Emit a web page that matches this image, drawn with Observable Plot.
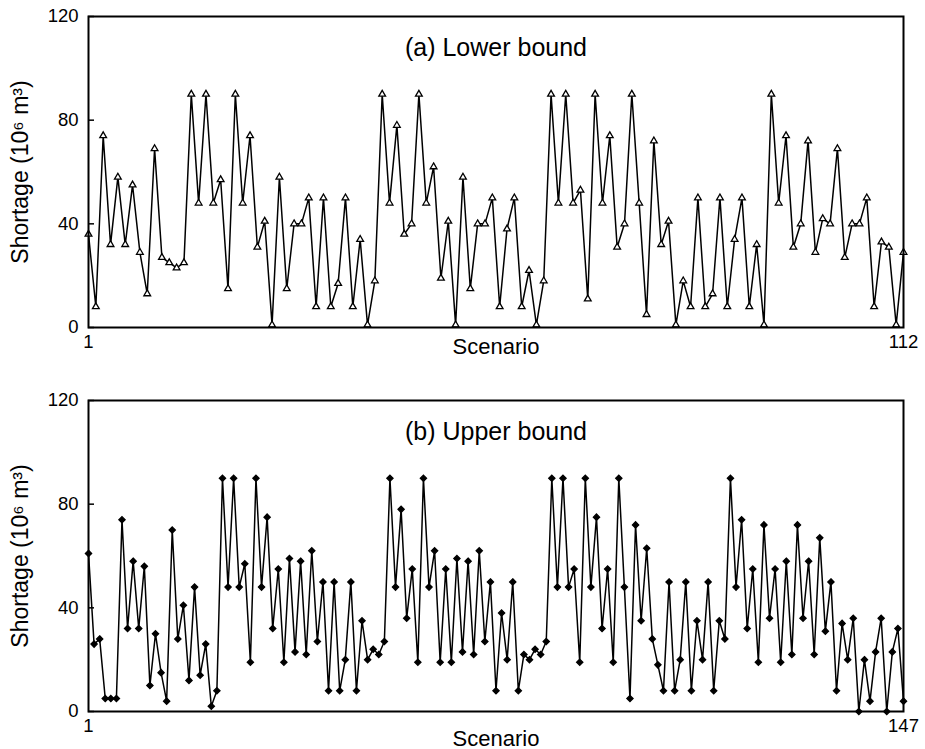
<!DOCTYPE html>
<html><head><meta charset="utf-8">
<script src="https://cdn.jsdelivr.net/npm/d3@7"></script>
<script src="https://cdn.jsdelivr.net/npm/@observablehq/plot@0.6"></script>
<style>body{margin:0;background:#fff;font-family:"Liberation Sans",Arial,sans-serif} svg{display:block}</style>
</head><body><div id="chart"></div>
<script>
// (a) Lower bound, scenarios 1..112
const lowerBound = [36,8,74,32,58,32,55,29,13,69,27,25,23,25,90,48,90,48,57,15,90,48,74,31,41,1,58,15,
  40,40,50,8,50,8,17,50,8,34,1,18,90,48,78,36,40,90,48,62,19,41,1,58,15,40,40,50,
  8,38,50,8,22,1,18,90,48,90,48,53,11,90,48,74,31,40,90,48,5,72,32,41,1,18,8,50,
  8,13,50,8,34,50,8,32,1,90,48,74,31,40,72,29,42,40,69,27,40,40,50,8,33,31,1,29];
// (b) Upper bound, scenarios 1..147
const upperBound = [61,26,28,5,5,5,74,32,58,32,56,10,30,15,4,70,28,41,12,48,14,26,2,8,90,48,90,48,57,19,90,48,75,32,55,19,
  59,23,58,22,62,27,50,8,50,8,20,50,8,35,20,24,22,27,90,48,78,36,55,19,90,48,62,19,55,19,59,23,58,22,62,27,50,8,
  38,20,50,8,22,20,24,22,27,90,48,90,48,55,19,90,48,75,32,55,19,90,48,5,72,35,63,28,18,8,50,8,20,50,8,35,20,
  50,8,35,28,90,48,74,32,55,19,72,36,55,19,58,22,72,36,58,22,67,31,50,8,34,20,36,0,20,4,23,36,0,23,32,4];
const yTicks = [0, 40, 80, 120];
const titles = ["(a) Lower bound", "(b) Upper bound"];
const xLabel = "Scenario";
const yLabel = "Shortage (10⁶ m³)";

function panel(values, title, symbol, fill, r, layout) {
  const data = values.map((v, i) => ({scenario: i + 1, shortage: v}));
  const n = values.length;
  return Plot.plot({
    width: 925, height: layout.height,
    marginLeft: 88, marginRight: 22, marginTop: layout.marginTop, marginBottom: layout.marginBottom,
    style: {fontFamily: "'Liberation Sans', Arial, sans-serif", fontSize: "18.5px", color: "#000", background: "#fff", overflow: "visible"},
    x: {domain: [1, n]},
    y: {domain: [0, 120]},
    marks: [
      Plot.axisY({ticks: yTicks, tickSize: -6, tickPadding: 16, fontSize: 18.5, strokeWidth: 1.5, label: null}),
      Plot.axisY({ticks: [], tickSize: 0, label: yLabel, labelAnchor: "center", labelOffset: 77, labelArrow: "none", fontSize: 23}),
      Plot.axisX({ticks: [1, n], tickSize: 0, tickPadding: 7, fontSize: 18.5, label: null}),
      Plot.axisX({ticks: [], tickSize: 0, label: xLabel, labelAnchor: "center", labelOffset: layout.labelOffset, labelArrow: "none", fontSize: 22}),
      Plot.line(data, {x: "scenario", y: "shortage", stroke: "#000", strokeWidth: 1.5}),
      Plot.dot(data, {x: "scenario", y: "shortage", symbol, fill, stroke: "#000", strokeWidth: 1.3, r}),
      Plot.frame({stroke: "#000", strokeWidth: 2}),
      Plot.text([title], {frameAnchor: "top", dy: 22, fontSize: 25, text: d => d})
    ]
  });
}
const chart = document.getElementById("chart");
chart.append(panel(lowerBound, titles[0], "triangle", "#fff", 2.5, {height: 375, marginTop: 16, marginBottom: 48, labelOffset: 26}));
chart.append(panel(upperBound, titles[1], "diamond2", "#000", 2.8, {height: 374, marginTop: 25, marginBottom: 38, labelOffset: 34}));
</script>
</body></html>
